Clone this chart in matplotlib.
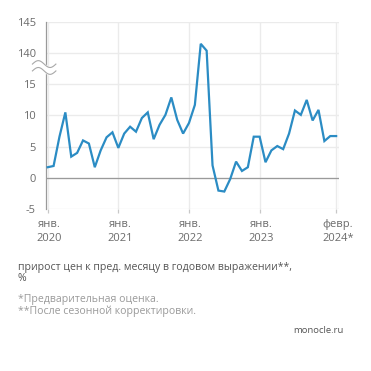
import numpy as np
import matplotlib.pyplot as plt
import matplotlib.transforms as mtransforms

plt.rcParams['font.family'] = ['Open Sans', 'DejaVu Sans']

# прирост цен к пред. месяцу, % (янв. 2020 - февр. 2024)
values = [1.7, 1.9, 6.6, 10.5, 3.4, 4.0, 6.0, 5.5, 1.7, 4.4, 6.5, 7.3,
          4.8, 7.1, 8.2, 7.4, 9.6, 10.5, 6.2, 8.5, 10.1, 12.9, 9.3, 7.1,
          8.8, 11.7, 141.5, 140.4, 2.0, -2.05, -2.2, -0.2, 2.6, 1.1, 1.7, 6.6,
          6.6, 2.5, 4.4, 5.1, 4.6, 7.1, 10.8, 10.1, 12.5, 9.2, 10.9, 5.9,
          6.7, 6.7]
tick_months = [0, 12, 24, 36, 49]
tick_labels = ["янв.\n2020", "янв.\n2021", "янв.\n2022", "янв.\n2023", "февр.\n2024*"]
y_ticks = [-5, 0, 5, 10, 15, 140, 145]

# разрыв оси: всё выше 20 сдвигается на 120 вниз
def squash(v):
    v = np.asarray(v, dtype=float)
    return np.where(v > 20, v - 120, v)

x = np.arange(len(values))
y = squash(values)

fig = plt.figure(figsize=(3.71, 3.71), dpi=100)
ax = fig.add_axes([0.123, 0.4367, 0.791, 0.504])

grid_c = "#ebebeb"
text_c = "#6b6b6b"

ax.set_xlim(-0.35, 49.5)
ax.set_ylim(-5, 25)

yt = squash(y_ticks)
ax.set_yticks(yt)
ax.set_yticklabels([str(v) for v in y_ticks])
ax.set_xticks(tick_months)
ax.set_xticklabels(tick_labels, multialignment="center", linespacing=1.45)

for v in yt:
    ax.axhline(v, color=grid_c, lw=1.0, zorder=0)
for m in tick_months:
    ax.axvline(m, color=grid_c, lw=1.0, zorder=0)
ax.axvline(49.5, color=grid_c, lw=1.0, zorder=0)
ax.axhline(0, color="#9a9a9a", lw=0.9, zorder=1)

ax.plot(x, y, color="#2b8cc4", lw=1.6, solid_joinstyle="miter", zorder=3)

for s in ["top", "right", "bottom"]:
    ax.spines[s].set_visible(False)
ax.spines["left"].set_color("#9a9a9a")
ax.spines["left"].set_linewidth(0.9)

ax.tick_params(axis="y", length=0, pad=7, labelsize=8, labelcolor=text_c)
ax.tick_params(axis="x", length=3, width=0.9, color="#c8c8c8", pad=4,
               labelsize=8, labelcolor=text_c)

shift = mtransforms.ScaledTranslation(1.2 / 72, 0, fig.dpi_scale_trans)
for lab in ax.get_xticklabels():
    lab.set_transform(lab.get_transform() + shift)

# значок разрыва оси
yb = 17.7
xs = np.linspace(-0.045, 0.035, 30)
wave = 0.55 * np.sin((xs + 0.045) / 0.08 * 2 * np.pi)
ax.fill_between(xs, yb - 0.6 + wave, yb + 0.6 + wave, color="white",
                transform=ax.get_yaxis_transform(), clip_on=False, zorder=5)
for off in (-0.55, 0.55):
    ax.plot(xs, yb + off + wave, color="#a8a8a8", lw=0.8,
            transform=ax.get_yaxis_transform(), clip_on=False, zorder=6)

fig.text(0.0485, 0.280, "прирост цен к пред. месяцу в годовом выражении**,",
         fontsize=7.6, color="#555555", va="center")
fig.text(0.0485, 0.248, "%", fontsize=7.6, color="#555555", va="center")
fig.text(0.0485, 0.194, "*Предварительная оценка.", fontsize=7.6, color="#9a9a9a", va="center")
fig.text(0.0485, 0.162, "**После сезонной корректировки.", fontsize=7.6, color="#9a9a9a", va="center")
fig.text(0.925, 0.110, "monocle.ru", fontsize=6.8, color="#555555", va="center", ha="right")

fig.savefig("out.png", dpi=100)
